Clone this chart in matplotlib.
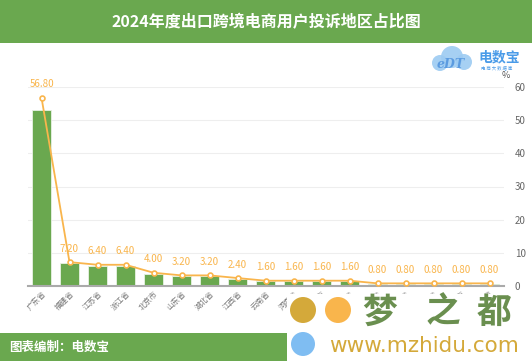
import matplotlib
matplotlib.use("Agg")
import matplotlib.pyplot as plt
from matplotlib.patches import Rectangle, Ellipse

plt.rcParams['font.family'] = ['Noto Sans CJK SC', 'DejaVu Sans']

categories = ['广东省', '福建省', '江苏省', '浙江省', '北京市', '山东省', '湖北省', '江西省',
              '云南省', '河南省', '上海市', '四川省', '湖南省', '河北省', '安徽省', '天津市', '辽宁省']
line_values = [56.80, 7.20, 6.40, 6.40, 4.00, 3.20, 3.20, 2.40, 1.60, 1.60, 1.60, 1.60,
               0.80, 0.80, 0.80, 0.80, 0.80]
bar_values = [53.0, 6.8, 5.9, 5.9, 3.7, 2.9, 2.9, 2.1, 1.5, 1.5, 1.5, 1.5,
              0.7, 0.7, 0.7, 0.7, 0.7]
y_ticks = [0, 10, 20, 30, 40, 50, 60]

GREEN = '#6aa84f'
ORANGE = '#f9b54c'

W, H = 532, 361
fig = plt.figure(figsize=(W / 100, H / 100), dpi=100)
fig.patch.set_facecolor('white')


def circ(cx, cy, r, color, z=6, alpha=1.0):
    fig.add_artist(Ellipse((cx / W, 1 - cy / H), 2 * r / W, 2 * r / H, transform=fig.transFigure,
                           facecolor=color, edgecolor='none', zorder=z, alpha=alpha))


# title band
fig.add_artist(Rectangle((0, 1 - 43 / H), 1, 43 / H, transform=fig.transFigure,
                         facecolor=GREEN, edgecolor='none', zorder=0))
fig.text(0.5, 1 - 22 / H, '2024年度出口跨境电商用户投诉地区占比图', ha='center', va='center',
         color='white', fontsize=11.5, fontweight='bold')

ax = fig.add_axes([27.5 / W, 1 - 286 / H, (503.5 - 27.5) / W, (286 - 87) / H])
x = list(range(len(categories)))
ax.bar(x, bar_values, width=0.68, color=GREEN, edgecolor='#e8f2e3', linewidth=0.6, zorder=2)
ax.plot(x, line_values, color=ORANGE, linewidth=1.3, marker='o', markersize=3.5,
        markerfacecolor='white', markeredgecolor=ORANGE, markeredgewidth=1.2, zorder=3)
for xi, v in zip(x, line_values):
    ax.annotate(f'{v:.2f}', (xi, v), xytext=(0, 6), textcoords='offset points',
                ha='center', va='bottom', color=ORANGE, fontsize=7, zorder=4)

ax.set_xlim(-0.5, len(categories) - 0.5)
ax.set_ylim(0, 60)
ax.set_yticks(y_ticks)
ax.yaxis.tick_right()
ax.tick_params(axis='y', length=0, labelsize=7, labelcolor='#666666', pad=8)
ax.grid(axis='y', color='#eeeeee', linewidth=0.8, zorder=0)
ax.set_axisbelow(True)
for s in ['top', 'left', 'right']:
    ax.spines[s].set_visible(False)
ax.spines['bottom'].set_color('#aaaaaa')
ax.spines['bottom'].set_linewidth(1.5)
ax.set_xticks(x)
ax.set_xticklabels(categories, rotation=45, ha='right', rotation_mode='anchor',
                   fontsize=5.5, color='#777777')
ax.tick_params(axis='x', length=0, pad=3)
fig.text(506 / W, 1 - 76 / H, '%', ha='center', va='center', fontsize=6.5, color='#555555')

# logo top right
circ(452, 57, 11, '#9ccbf2', z=1, alpha=0.9)
circ(440, 63, 8, '#9ccbf2', z=1, alpha=0.9)
circ(464, 62, 8, '#9ccbf2', z=1, alpha=0.9)
fig.text(451 / W, 1 - 64 / H, 'eDT', fontsize=9, color='#5b9be0', fontweight='bold',
         ha='center', va='center', fontstyle='italic', zorder=2, family='DejaVu Serif')
fig.text(499 / W, 1 - 57 / H, '电数宝', fontsize=10, color='#4a9be8', fontweight='bold',
         ha='center', va='center')
fig.text(497 / W, 1 - 68 / H, '电 商 大 数 据 库', fontsize=3.2, color='#4a9be8',
         ha='center', va='center')

# footer band
fig.add_artist(Rectangle((0, 0), 287 / W, 28 / H, transform=fig.transFigure,
                         facecolor=GREEN, edgecolor='none'))
fig.text(9 / W, 14 / H, '图表编制：电数宝', ha='left', va='center', color='white',
         fontsize=9, fontweight='bold')

# watermark box
fig.add_artist(Rectangle((287 / W, 0), 1 - 287 / W, 67 / H, transform=fig.transFigure,
                         facecolor='white', edgecolor='none', zorder=5))
circ(303, 310, 13, '#d4a93a')
circ(338, 310, 13, '#f9b54c')
circ(303, 344, 12, '#7fbdf2')
for ch, cx in zip('梦之都', [380, 443, 494]):
    fig.text(cx / W, 1 - 312 / H, ch, ha='center', va='center', color='#6a8f4f',
             fontsize=25, fontweight='bold', zorder=7)
fig.text(424 / W, 1 - 346 / H, 'www.mzhidu.com', ha='center', va='center', color='#d4a93a',
         fontsize=15.5, zorder=7, family='DejaVu Sans')

fig.savefig('out.png', dpi=100)
